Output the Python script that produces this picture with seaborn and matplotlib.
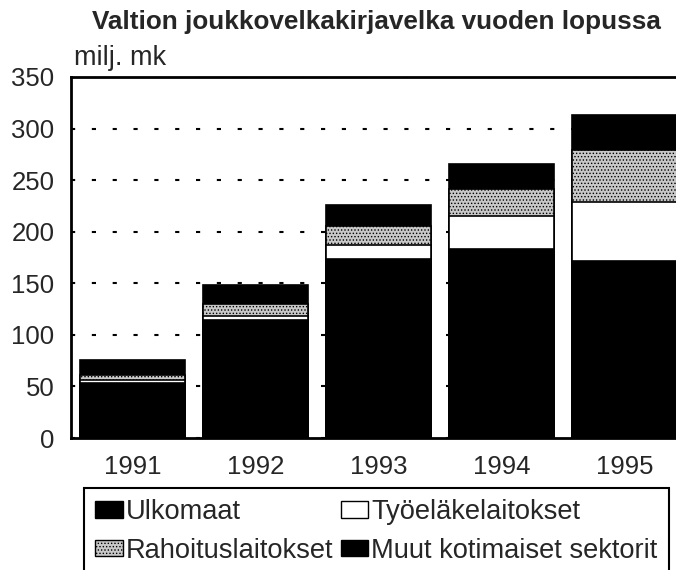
import matplotlib
matplotlib.use("Agg")
import matplotlib.pyplot as plt
from matplotlib.patches import Patch
import seaborn as sns
import pandas as pd
import numpy as np

years = ["1991", "1992", "1993", "1994", "1995"]
muut = [53, 114, 174, 183, 172]          # Muut kotimaiset sektorit
tyoelake = [3, 4, 13, 32, 57]            # Työeläkelaitokset
rahoitus = [5, 12, 19, 26, 50]           # Rahoituslaitokset
ulkomaat = [15, 18, 20, 25, 34]          # Ulkomaat
yticks = [0, 50, 100, 150, 200, 250, 300, 350]

sns.set_style("white")
plt.rcParams["font.family"] = ["Liberation Sans", "DejaVu Sans"]
plt.rcParams["hatch.linewidth"] = 0.6

W, H = 676, 570
fig = plt.figure(figsize=(W / 100, H / 100), dpi=100)
ax = fig.add_axes([71 / W, 132 / H, 615 / W, 361 / H])

df = pd.DataFrame({"year": years, "muut": muut, "tyo": tyoelake,
                   "rah": rahoitus, "ulk": ulkomaat})
df["c1"] = df["muut"]
df["c2"] = df["c1"] + df["tyo"]
df["c3"] = df["c2"] + df["rah"]
df["c4"] = df["c3"] + df["ulk"]

layers = [
    ("c4", "black", None),
    ("c3", "#c8c8c8", "....."),
    ("c2", "white", None),
    ("c1", "black", None),
]
for col, colr, hatch in layers:
    kw = dict(x="year", y=col, data=df, order=years, color=colr, ax=ax,
              width=0.86, edgecolor="black", linewidth=1.2, saturation=1)
    if hatch:
        kw["hatch"] = hatch
    sns.barplot(**kw)

ax.set_xlim(-0.5, 4.5)
ax.set_ylim(0, 350)
ax.set_yticks(yticks)
ax.set_yticklabels([str(v) for v in yticks])
ax.set_axisbelow(True)
ax.yaxis.grid(True, linestyle=(0, (2, 8)), color="black", linewidth=1.5)
ax.xaxis.grid(False)
ax.set_xlabel("")
ax.set_ylabel("")
ax.tick_params(axis="y", length=0, pad=12, labelsize=18.5)
ax.tick_params(axis="x", length=0, pad=12, labelsize=18.5)
for s in ["left", "top", "bottom"]:
    ax.spines[s].set_visible(True)
    ax.spines[s].set_color("black")
    ax.spines[s].set_linewidth(2)
ax.spines["right"].set_visible(False)

fig.text(376 / W, 1 - 29 / H, "Valtion joukkovelkakirjavelka vuoden lopussa",
         ha="center", va="baseline", fontsize=18.8, fontweight="bold")
fig.text(74 / W, 1 - 65 / H, "milj. mk", ha="left", va="baseline", fontsize=19.5)

handles = [
    Patch(facecolor="black", edgecolor="black", label="Ulkomaat"),
    Patch(facecolor="#c8c8c8", edgecolor="black", hatch=".....", label="Rahoituslaitokset"),
    Patch(facecolor="white", edgecolor="black", label="Työeläkelaitokset"),
    Patch(facecolor="black", edgecolor="black", label="Muut kotimaiset sektorit"),
]
leg = fig.legend(handles=handles, loc="upper left",
                 bbox_to_anchor=(84 / W, 1 - 488 / H), ncol=2, fontsize=19.6,
                 frameon=True, fancybox=False, framealpha=1, borderaxespad=0,
                 borderpad=0.42, handlelength=1.0, handleheight=0.57,
                 handletextpad=0.1, columnspacing=0.3, labelspacing=0.45)
leg.get_frame().set_edgecolor("black")
leg.get_frame().set_linewidth(1.5)

fig.savefig("out.png", dpi=100)
